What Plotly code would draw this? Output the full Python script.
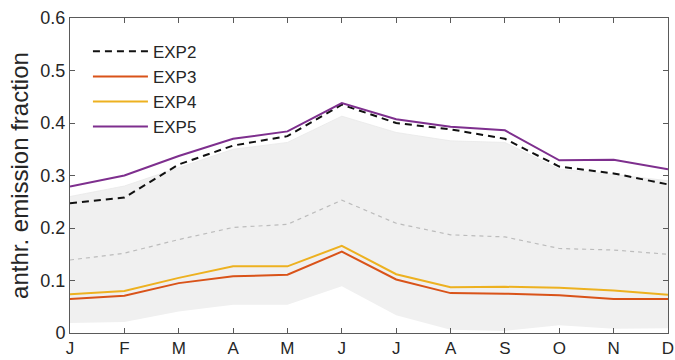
import plotly.graph_objects as go

# Monthly anthropogenic emission fraction
month_pos = list(range(1, 13))
month_labels = ["J", "F", "M", "A", "M", "J", "J", "A", "S", "O", "N", "D"]

exp2 = [0.247, 0.258, 0.321, 0.357, 0.375, 0.435, 0.400, 0.388, 0.370, 0.317, 0.304, 0.283]
exp3 = [0.065, 0.071, 0.095, 0.108, 0.111, 0.155, 0.102, 0.076, 0.075, 0.072, 0.065, 0.065]
exp4 = [0.074, 0.080, 0.105, 0.127, 0.127, 0.166, 0.112, 0.087, 0.088, 0.086, 0.081, 0.073]
exp5 = [0.279, 0.300, 0.337, 0.370, 0.384, 0.438, 0.407, 0.393, 0.386, 0.329, 0.330, 0.312]

# Spread (shaded range) and its central line
range_low = [0.019, 0.021, 0.041, 0.054, 0.054, 0.089, 0.034, 0.006, 0.004, 0.015, 0.008, 0.009]
range_high = [0.260, 0.280, 0.315, 0.350, 0.363, 0.413, 0.382, 0.366, 0.363, 0.312, 0.302, 0.290]
range_mid = [0.139, 0.152, 0.178, 0.201, 0.207, 0.253, 0.209, 0.187, 0.183, 0.161, 0.158, 0.150]

FONT = "Liberation Sans, Arial, sans-serif"
AXIS_COLOR = "#5a5a5a"
TEXT_COLOR = "#262626"

fig = go.Figure()

fig.add_trace(go.Scatter(
    x=month_pos, y=range_low, mode="lines",
    line=dict(width=0, color="#efefef"),
    showlegend=False, hoverinfo="skip",
))
fig.add_trace(go.Scatter(
    x=month_pos, y=range_high, mode="lines",
    line=dict(width=0.8, color="#e8e8e8"),
    fill="tonexty", fillcolor="#f0f0f0",
    showlegend=False, hoverinfo="skip",
))
fig.add_trace(go.Scatter(
    x=month_pos, y=range_mid, mode="lines",
    line=dict(width=1.2, color="#bcbcbc", dash="4px,4px"),
    showlegend=False, hoverinfo="skip",
))

fig.add_trace(go.Scatter(
    x=month_pos, y=exp2, mode="lines", name="EXP2",
    line=dict(width=2, color="#111111", dash="7px,5px"),
))
fig.add_trace(go.Scatter(
    x=month_pos, y=exp3, mode="lines", name="EXP3",
    line=dict(width=2, color="#d95319"),
))
fig.add_trace(go.Scatter(
    x=month_pos, y=exp4, mode="lines", name="EXP4",
    line=dict(width=2, color="#edb120"),
))
fig.add_trace(go.Scatter(
    x=month_pos, y=exp5, mode="lines", name="EXP5",
    line=dict(width=2, color="#7e2f8e"),
))

axis_common = dict(
    showline=True, linecolor=AXIS_COLOR, linewidth=1,
    mirror="ticks", ticks="inside", ticklen=5, tickcolor=AXIS_COLOR,
    showgrid=False, zeroline=False, automargin=False,
)

fig.update_xaxes(
    range=[1, 12], tickvals=month_pos, ticktext=month_labels,
    ticklabelstandoff=0,
    tickfont=dict(family=FONT, size=17, color=TEXT_COLOR),
    **axis_common,
)
fig.update_yaxes(
    range=[0, 0.6], tickvals=[0, 0.1, 0.2, 0.3, 0.4, 0.5, 0.6],
    ticktext=["0", "0.1", "0.2", "0.3", "0.4", "0.5", "0.6"],
    tickfont=dict(family=FONT, size=18, color=TEXT_COLOR),
    title=dict(text="anthr. emission fraction",
               font=dict(family=FONT, size=24, color=TEXT_COLOR), standoff=4),
    **axis_common,
)

fig.update_layout(
    width=675, height=360,
    margin=dict(l=70, r=7, t=18, b=27),
    paper_bgcolor="white", plot_bgcolor="white",
    font=dict(family=FONT, color=TEXT_COLOR),
    legend=dict(
        x=0.03, y=0.95, xanchor="left", yanchor="top",
        traceorder="normal",
        bgcolor="rgba(0,0,0,0)", borderwidth=0,
        font=dict(family=FONT, size=17, color=TEXT_COLOR),
        itemwidth=55, tracegroupgap=0,
    ),
)

fig.write_html("out.html")
